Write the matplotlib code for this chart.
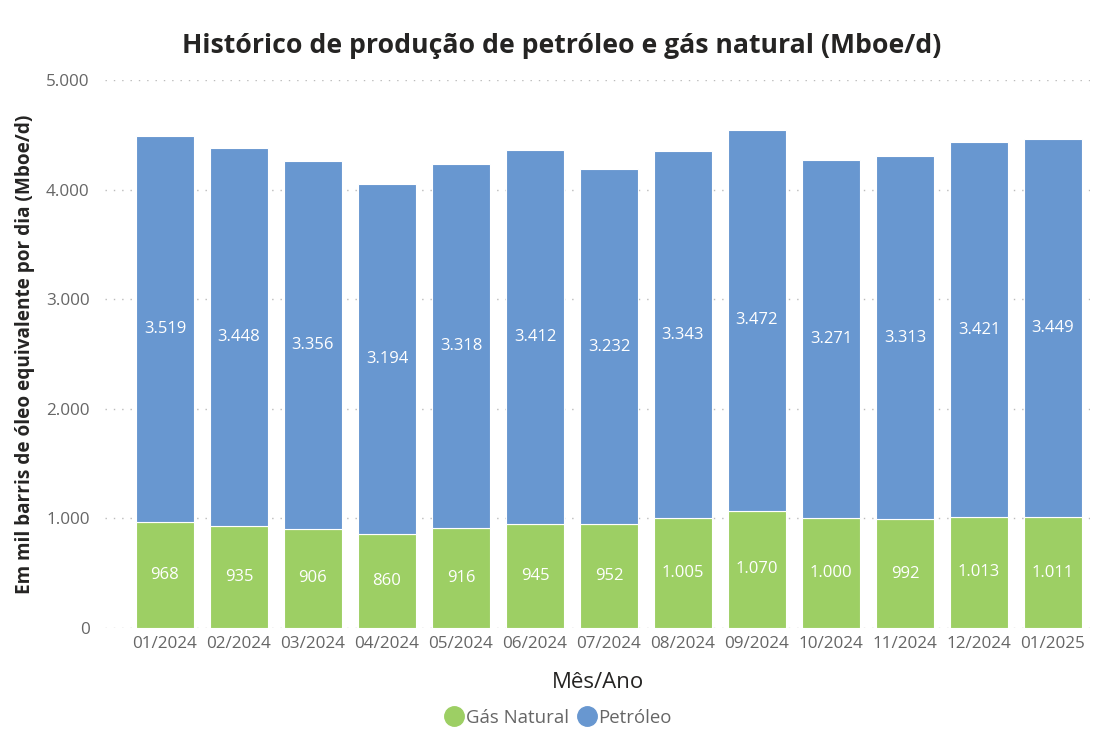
import matplotlib
matplotlib.use("Agg")
import matplotlib.pyplot as plt
from matplotlib.lines import Line2D

plt.rcParams['font.family'] = ['Open Sans', 'DejaVu Sans']

months = ["01/2024", "02/2024", "03/2024", "04/2024", "05/2024", "06/2024", "07/2024",
          "08/2024", "09/2024", "10/2024", "11/2024", "12/2024", "01/2025"]
gas = [968, 935, 906, 860, 916, 945, 952, 1005, 1070, 1000, 992, 1013, 1011]
oil = [3519, 3448, 3356, 3194, 3318, 3412, 3232, 3343, 3472, 3271, 3313, 3421, 3449]
yticks = [0, 1000, 2000, 3000, 4000, 5000]

GREEN = "#9DCF64"
BLUE = "#6897D0"
GRAY = "#666666"

def fmt(v):
    return f"{v:,}".replace(",", ".")

fig = plt.figure(figsize=(11.04, 7.40), dpi=100)
ax = fig.add_axes([105/1104, 112/740, 985/1104, 548/740])

x = list(range(len(months)))
w = 0.78
ax.bar(x, gas, width=w, color=GREEN, edgecolor="white", linewidth=0.8, zorder=3)
ax.bar(x, oil, width=w, bottom=gas, color=BLUE, edgecolor="white", linewidth=0.8, zorder=3)

for i in x:
    ax.text(i, gas[i] / 2, fmt(gas[i]), ha="center", va="center", color="white", fontsize=12, zorder=4)
    ax.text(i, gas[i] + oil[i] / 2, fmt(oil[i]), ha="center", va="center", color="white", fontsize=12, zorder=4)

ax.set_xlim(-0.81, len(months) - 0.5)
ax.set_ylim(0, 5000)
ax.set_yticks(yticks)
ax.set_yticklabels([fmt(v) for v in yticks])
ax.set_xticks(x)
ax.set_xticklabels(months)
ax.tick_params(axis="both", length=0, colors=GRAY, labelsize=12.3)
ax.tick_params(axis="y", pad=11)
ax.tick_params(axis="x", pad=6)
for s in ax.spines.values():
    s.set_visible(False)
ax.yaxis.grid(True, linestyle=(0, (1, 5)), color="#BBBBBB", linewidth=1, zorder=0)
ax.set_axisbelow(True)

ax.set_xlabel("Mês/Ano", fontsize=16, color="#252423", labelpad=14)
ax.set_ylabel("Em mil barris de óleo equivalente por dia (Mboe/d)", fontsize=13.7,
              fontweight="bold", color="#252423")
ax.yaxis.set_label_coords(-0.071, 0.5)

fig.text(0.509, 0.938, "Histórico de produção de petróleo e gás natural (Mboe/d)",
         ha="center", va="center", fontsize=19.2, fontweight="bold", color="#252423")

handles = [Line2D([0], [0], marker="o", linestyle="", markersize=14, color=GREEN),
           Line2D([0], [0], marker="o", linestyle="", markersize=14, color=BLUE)]
fig.legend(handles, ["Gás Natural", "Petróleo"], loc="center", bbox_to_anchor=(0.505, 0.03),
           ncol=2, frameon=False, fontsize=13.4, labelcolor=GRAY,
           handletextpad=0.0, columnspacing=0.4, handlelength=1.2)

fig.savefig("out.png", dpi=100)
